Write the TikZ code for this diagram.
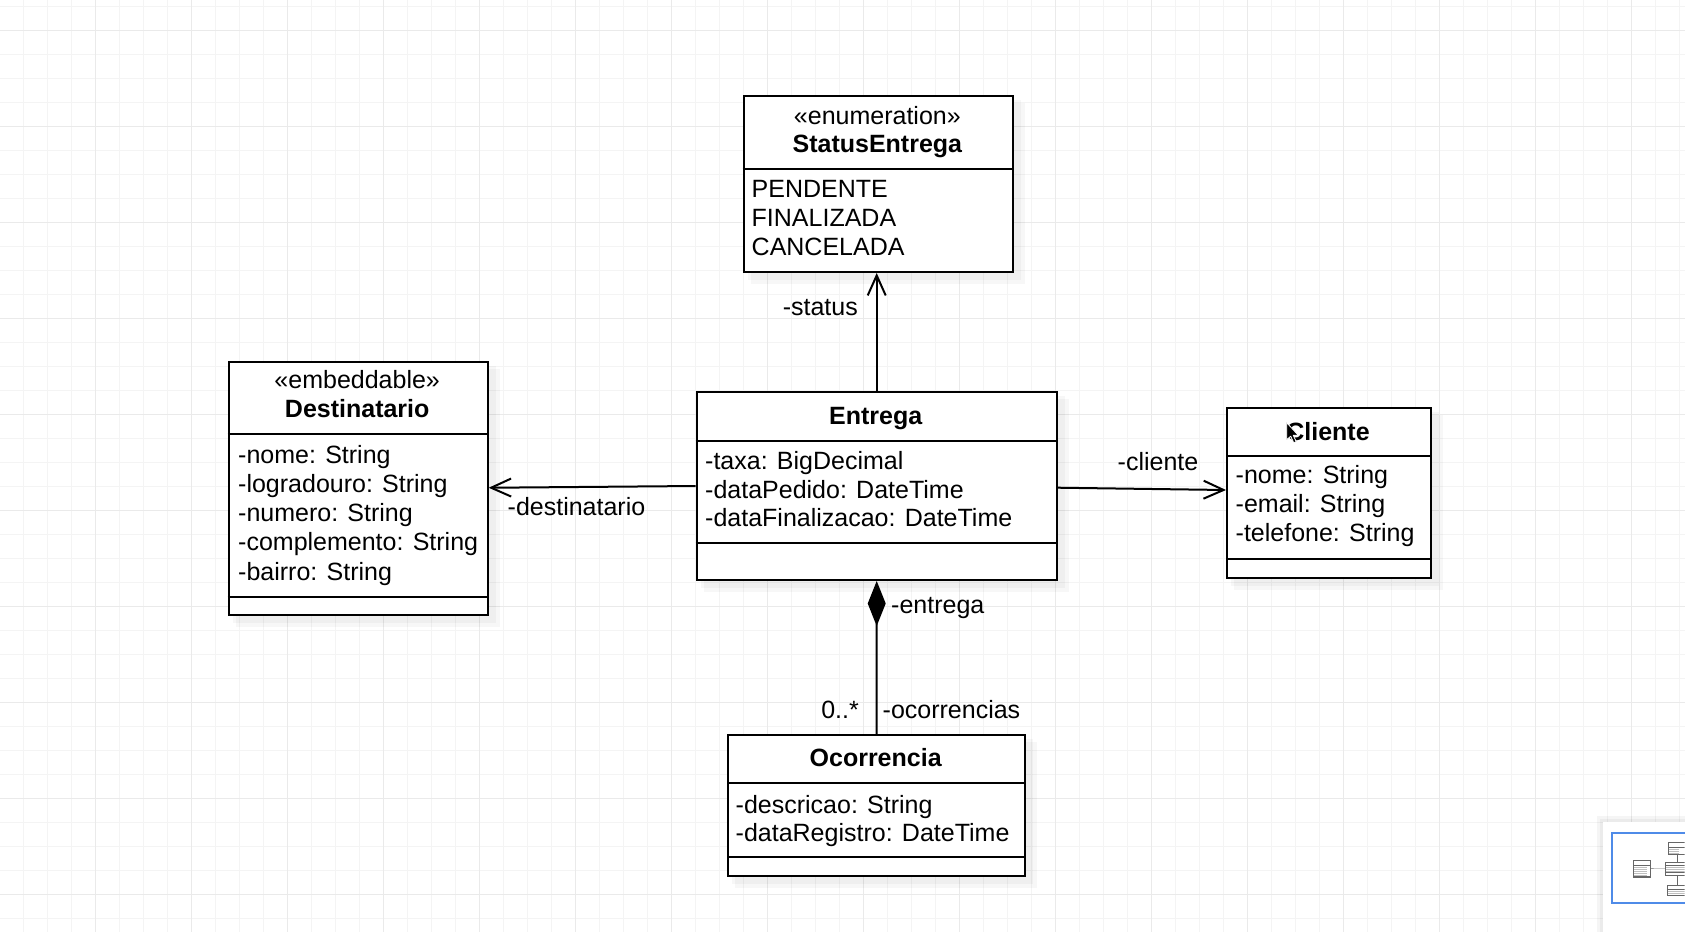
\documentclass[tikz,border=0pt]{standalone}
\usepackage{fontspec}
\setmainfont{Liberation Sans}
\usetikzlibrary{arrows.meta,calc}
\definecolor{gminor}{HTML}{F4F4F4}
\definecolor{gmajor}{HTML}{EAEAEA}
\definecolor{mapblue}{HTML}{4F8BE8}
\newcommand\shbox[4]{%
  \fill[black,opacity=0.03] ({#1+5},{#2+5}) rectangle ({#3+9},{#4+9});
  \fill[black,opacity=0.03] ({#1+8},{#2+8}) rectangle ({#3+13},{#4+13});}
\tikzset{
  cls/.style={draw=black, line width=2pt, fill=white, anchor=north west, inner sep=0pt},
  divider/.style={line width=2pt},
  txt/.style={inner sep=0pt, font=\fontsize{25}{30}\selectfont, anchor=base west},
  ctxt/.style={txt, anchor=base},
  btxt/.style={inner sep=0pt, anchor=base, font=\fontsize{25}{30}\selectfont\bfseries},
  assoc/.style={line width=2pt, -{Straight Barb[length=20pt,width=18pt]}},
  comp/.style={line width=2pt, -{Diamond[length=45pt,width=18pt]}},
  thumb/.style={line width=0.3pt, draw=black!60}
}
\begin{document}
\begin{tikzpicture}[x=1pt,y=-1pt]
\useasboundingbox (0,0) rectangle (1685,932);
\fill[white] (0,0) rectangle (1685,932);
% grid
\foreach \i in {0,...,70} \draw[gminor, line width=1pt] ({23.3+24*\i},0) -- ({23.3+24*\i},932);
\foreach \i in {0,...,38} \draw[gminor, line width=1pt] (0,{6+24*\i}) -- (1685,{6+24*\i});
\foreach \i in {0,...,17} \draw[gmajor, line width=1pt] ({95.7+96*\i},0) -- ({95.7+96*\i},932);
\foreach \i in {0,...,9} \draw[gmajor, line width=1pt] (0,{30+96*\i}) -- (1685,{30+96*\i});

% shadows
\shbox{742.7}{95}{1012}{271}
\shbox{227.7}{360.7}{486.7}{614}
\shbox{695.7}{391}{1055.7}{579}
\shbox{1226}{406.7}{1430}{576.7}
\shbox{727.3}{734.3}{1024}{875}

% StatusEntrega
\node[cls, minimum width=269.3pt, minimum height=176pt] (stat) at (742.7,95) {};
\draw[divider] (742.7,169.3) -- (1012,169.3);
\node[ctxt] (stat-st) at (877.35,124) {«enumeration»};
\node[btxt] (stat-n) at (877.35,152.7) {StatusEntrega};
\foreach \t [count=\i] in {PENDENTE,FINALIZADA,CANCELADA}
  \node[txt] (stat-a\i) at (751.5,{197.3+29.2*(\i-1)}) {\t};

% Destinatario
\node[cls, minimum width=259pt, minimum height=253.3pt] (dest) at (227.7,360.7) {};
\draw[divider] (227.7,434.3) -- (486.7,434.3);
\draw[divider] (227.7,597) -- (486.7,597);
\node[ctxt] (dest-st) at (357.2,388.5) {«embeddable»};
\node[btxt] (dest-n) at (357.2,417) {Destinatario};
\foreach \t [count=\i] in {-nome: String,-logradouro: String,-numero: String,-complemento: String,-bairro: String}
  \node[txt] (dest-a\i) at (238,{463.3+29.2*(\i-1)}) {\t};

% Entrega
\node[cls, minimum width=360pt, minimum height=188pt] (ent) at (695.7,391) {};
\draw[divider] (695.7,440.7) -- (1055.7,440.7);
\draw[divider] (695.7,543.3) -- (1055.7,543.3);
\node[btxt] (ent-n) at (875.7,424) {Entrega};
\foreach \t [count=\i] in {-taxa: BigDecimal,-dataPedido: DateTime,-dataFinalizacao: DateTime}
  \node[txt] (ent-a\i) at (705,{469.3+28.7*(\i-1)}) {\t};

% Cliente
\node[cls, minimum width=204pt, minimum height=170pt] (cli) at (1226,406.7) {};
\draw[divider] (1226,455.7) -- (1430,455.7);
\draw[divider] (1226,559.3) -- (1430,559.3);
\node[btxt] (cli-n) at (1328,440) {Cliente};
\foreach \t [count=\i] in {-nome: String,-email: String,-telefone: String}
  \node[txt] (cli-a\i) at (1235.5,{483.3+29.2*(\i-1)}) {\t};

% Ocorrencia
\node[cls, minimum width=296.7pt, minimum height=140.7pt] (ocor) at (727.3,734.3) {};
\draw[divider] (727.3,782.7) -- (1024,782.7);
\draw[divider] (727.3,857.3) -- (1024,857.3);
\node[btxt] (ocor-n) at (875.65,766.7) {Ocorrencia};
\foreach \t [count=\i] in {-descricao: String,-dataRegistro: DateTime}
  \node[txt] (ocor-a\i) at (735.5,{813.3+28.4*(\i-1)}) {\t};

% connectors
\draw[assoc] (ent.north) -- (ent.north |- stat.south);
\draw[assoc] ([yshift=0pt]ent.west) -- ([yshift=0.6pt]dest.east);
\draw[assoc] ([yshift=-1.7pt]ent.east) -- ([yshift=2.7pt]cli.west);
\draw[comp] (ocor.north) -- (ent.south);

% connector labels
\node[txt, anchor=base east] (l-status) at (858,315) {-status};
\node[txt] (l-dest) at (507.5,515) {-destinatario};
\node[txt] (l-cli) at (1117.5,470) {-cliente};
\node[txt] (l-ent) at (891,613.3) {-entrega};
\node[txt, anchor=base east] (l-mult) at (859,718.3) {0..*};
\node[txt] (l-ocor) at (882.5,718.3) {-ocorrencias};

% mouse cursor
\begin{scope}[shift={(1286.7,422.7)}]
  \filldraw[fill=black, draw=white, line width=0.8pt, line join=round]
    (0,0) -- (0,17) -- (4,13.5) -- (7,20) -- (9.5,19) -- (6.5,12.5) -- (11.5,12.5) -- cycle;
\end{scope}

% minimap panel
\fill[black,opacity=0.04] (1597,816) rectangle (1685,932);
\fill[black,opacity=0.04] (1600,819) rectangle (1685,932);
\fill[white] (1603,822) rectangle (1685,932);
\draw[mapblue, line width=2pt] (1690,833.3) -- (1612.3,833.3) -- (1612.3,902.7) -- (1690,902.7);
\begin{scope}[shift={(1617.5,835.5)}, scale=0.068]
  \begin{scope}
  \clip (-100,-100) rectangle (987,1400);
  \draw[thumb] (742.7,95) rectangle (1012,271);
  \draw[thumb] (742.7,169.3) -- (1012,169.3);
  \draw[thumb] (227.7,360.7) rectangle (486.7,614);
  \draw[thumb] (227.7,434.3) -- (486.7,434.3);
  \draw[thumb] (227.7,597) -- (486.7,597);
  \draw[thumb] (695.7,391) rectangle (1055.7,579);
  \draw[thumb] (695.7,440.7) -- (1055.7,440.7);
  \draw[thumb] (695.7,543.3) -- (1055.7,543.3);
  \draw[thumb] (727.3,734.3) rectangle (1024,875);
  \draw[thumb] (727.3,782.7) -- (1024,782.7);
  \draw[thumb] (875,271) -- (875,391);
  \draw[thumb] (486.7,487) -- (695.7,485);
  \draw[thumb] (875,579) -- (875,734.3);
  \foreach \yy in {463,492,521,550,580} \draw[black!25, line width=0.4pt] (240,\yy) -- (440,\yy);
  \foreach \yy in {469,498,527} \draw[black!25, line width=0.4pt] (706,\yy) -- (1000,\yy);
  \foreach \yy in {197,226,255} \draw[black!25, line width=0.4pt] (753,\yy) -- (900,\yy);
  \foreach \yy in {813,842} \draw[black!25, line width=0.4pt] (737,\yy) -- (990,\yy);
  \end{scope}
\end{scope}
\end{tikzpicture}
\end{document}
